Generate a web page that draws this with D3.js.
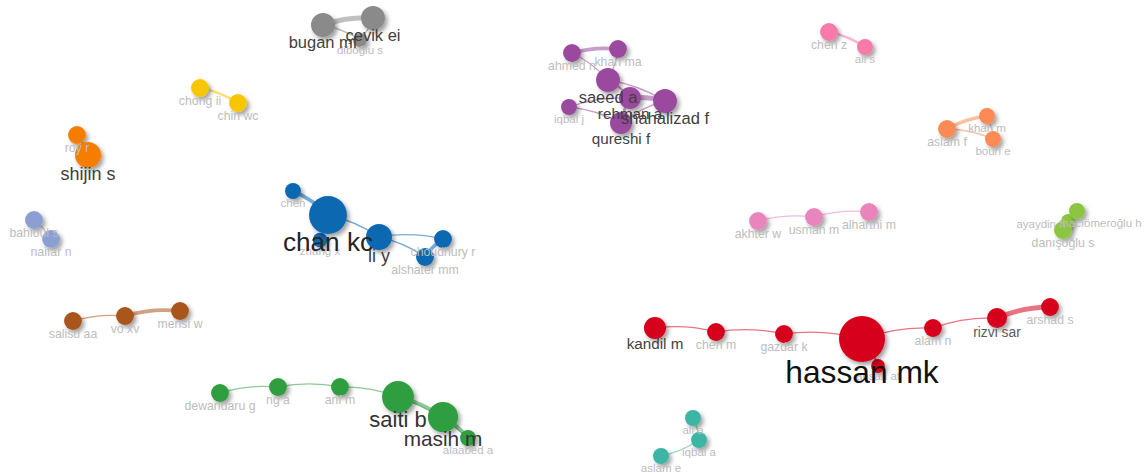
<!DOCTYPE html>
<html>
<head>
<meta charset="utf-8">
<script src="https://cdn.jsdelivr.net/npm/d3@7"></script>
<style>
  html, body { margin: 0; padding: 0; background: #fff; }
  svg { display: block; font-family: "Liberation Sans", Arial, sans-serif; }
</style>
</head>
<body>
<svg id="map" width="1146" height="474"></svg>
<script>
// Cluster colours (co-authorship clusters)
const clusterColors = ["#d6001c", "#2f9e3f", "#0b67b2", "#9a4a9e", "#8a8a8a", "#f6c700", "#f77d05",
                       "#8c9fd3", "#a9561c", "#f77aab", "#fc8a55", "#e885bd", "#8cc63f", "#3cb5a4"];

// Authors: [label, map x, map y, weight, cluster]
const nodes = [
  ["hassan mk", 862, 339, 100, 0],
  ["kandil m", 655, 328, 23, 0],
  ["chen m", 716, 332, 15, 0],
  ["gazdar k", 784, 334, 15, 0],
  ["ansari at", 878, 366, 9, 0],
  ["alam n", 933, 328, 15, 0],
  ["rizvi sar", 997, 318, 19, 0],
  ["arshad s", 1050, 307, 15, 0],

  ["saiti b", 398, 397, 48, 1],
  ["masih m", 443, 417, 43, 1],
  ["dewandaru g", 220, 393, 15, 1],
  ["ng a", 278, 387, 15, 1],
  ["arif m", 340, 387, 15, 1],
  ["alaabed a", 468, 438, 12, 1],

  ["chan kc", 328, 215, 68, 2],
  ["chen", 293, 191, 12, 2],
  ["zhang x", 320, 240, 10, 2],
  ["li y", 379, 237, 32, 2],
  ["choudhury r", 443, 239, 15, 2],
  ["alshater mm", 425, 257, 15, 2],

  ["saeed a", 608, 80, 27, 3],
  ["rehman a", 630, 98, 23, 3],
  ["shahalizad f", 665, 101, 27, 3],
  ["qureshi f", 621, 123, 23, 3],
  ["ahmed n", 572, 53, 15, 3],
  ["khan ma", 618, 49, 15, 3],
  ["iqbal j", 569, 107, 12, 3],

  ["bugan mf", 323, 25, 27, 4],
  ["çevik ei", 373, 18, 27, 4],
  ["diboğlu s", 360, 40, 9, 4],

  ["chong ii", 200, 88, 15, 5],
  ["chin wc", 238, 103, 15, 5],

  ["roy r", 77, 135, 15, 6],
  ["shijin s", 88, 155, 32, 6],

  ["bahloul s", 34, 220, 15, 7],
  ["naifar n", 51, 239, 15, 7],

  ["salisu aa", 73, 321, 15, 8],
  ["vo xv", 125, 316, 15, 8],
  ["mensi w", 180, 311, 15, 8],

  ["chen z", 829, 32, 15, 9],
  ["ali s", 865, 47, 12, 9],

  ["aslam f", 947, 129, 15, 10],
  ["khan m", 987, 116, 12, 10],
  ["bouri e", 993, 139, 12, 10],

  ["akhter w", 758, 221, 15, 11],
  ["usman m", 814, 217, 15, 11],
  ["alharthi m", 869, 212, 15, 11],

  ["ayaydin h", 1068, 221, 9, 12],
  ["hacıömeroğlu h", 1077, 211, 12, 12],
  ["danışoğlu s", 1063, 230, 15, 12],

  ["ali a", 693, 418, 12, 13],
  ["iqbal a", 699, 440, 12, 13],
  ["aslam e", 661, 456, 12, 13]
];

// Co-authorship links: [author, author, link strength]
const links = [
  ["kandil m", "chen m", 1], ["chen m", "gazdar k", 1], ["gazdar k", "hassan mk", 1],
  ["hassan mk", "alam n", 1], ["alam n", "rizvi sar", 1], ["rizvi sar", "arshad s", 4],
  ["hassan mk", "ansari at", 2],

  ["dewandaru g", "ng a", 1], ["ng a", "arif m", 1], ["arif m", "saiti b", 1],
  ["saiti b", "masih m", 3], ["masih m", "alaabed a", 3], ["saiti b", "alaabed a", 1],

  ["chen", "chan kc", 3], ["chan kc", "zhang x", 1], ["chan kc", "li y", 1],
  ["li y", "choudhury r", 1], ["li y", "alshater mm", 1], ["alshater mm", "choudhury r", 3],

  ["ahmed n", "khan ma", 3], ["ahmed n", "saeed a", 1], ["khan ma", "saeed a", 1],
  ["saeed a", "shahalizad f", 1], ["saeed a", "rehman a", 2], ["rehman a", "shahalizad f", 4],
  ["iqbal j", "rehman a", 1], ["iqbal j", "qureshi f", 1], ["qureshi f", "shahalizad f", 1],
  ["qureshi f", "rehman a", 2],

  ["bugan mf", "çevik ei", 4], ["bugan mf", "diboğlu s", 1], ["çevik ei", "diboğlu s", 1],
  ["chong ii", "chin wc", 2],
  ["roy r", "shijin s", 2],
  ["bahloul s", "naifar n", 1],
  ["salisu aa", "vo xv", 1], ["vo xv", "mensi w", 3],
  ["chen z", "ali s", 2],
  ["aslam f", "khan m", 3], ["aslam f", "bouri e", 1], ["khan m", "bouri e", 1],
  ["akhter w", "usman m", 1], ["usman m", "alharthi m", 1],
  ["ayaydin h", "hacıömeroğlu h", 1], ["hacıömeroğlu h", "danışoğlu s", 2], ["ayaydin h", "danışoğlu s", 1],
  ["ali a", "iqbal a", 1], ["iqbal a", "aslam e", 1]
];

// ---- layout ----
const width = 1146, height = 474;
const svg = d3.select("#map");

// label nudges for crowded labels
const labelShift = { "ayaydin h": [-27, -7], "hacıömeroğlu h": [25, 0] };

const x = d3.scaleLinear().domain([0, 1146]).range([0, width]);
const y = d3.scaleLinear().domain([0, 474]).range([0, height]);
const r = d3.scaleSqrt().domain([0, 100]).range([0, 23]);
const fontSize = w => Math.max(11.5, 1.38 * r(w));
const textColor = d3.scaleLinear().domain([15, 20, 100]).range(["#bdbdbd", "#444", "#111"]).clamp(true);
const linkWidth = d3.scaleLinear().domain([1, 4]).range([1.3, 5]);

const nodeData = nodes.map(([name, mx, my, w, c]) => ({ name, mx, my, w, c }));
const byName = new Map(nodeData.map(d => [d.name, d]));
const linkData = links.map(([a, b, s]) => ({ source: byName.get(a), target: byName.get(b), s }));

// soft drop shadow under the circles
const defs = svg.append("defs");
const f = defs.append("filter").attr("id", "shadow")
  .attr("x", "-50%").attr("y", "-50%").attr("width", "200%").attr("height", "200%");
f.append("feDropShadow").attr("dx", 2.5).attr("dy", 3).attr("stdDeviation", 2.2)
  .attr("flood-color", "#000").attr("flood-opacity", 0.38);

svg.append("rect").attr("width", width).attr("height", height).attr("fill", "#fff");

// curved links
const curve = 0.1;
svg.append("g").selectAll("path").data(linkData).join("path")
  .attr("d", d => {
    const sx = x(d.source.mx), sy = y(d.source.my), tx = x(d.target.mx), ty = y(d.target.my);
    const mx = (sx + tx) / 2, my = (sy + ty) / 2;
    const dx = tx - sx, dy = ty - sy;
    const cx = mx + dy * curve, cy = my - dx * curve;
    return `M${sx},${sy}Q${cx},${cy} ${tx},${ty}`;
  })
  .attr("fill", "none")
  .attr("stroke", d => clusterColors[d.source.c])
  .attr("stroke-opacity", 0.55)
  .attr("stroke-linecap", "round")
  .attr("stroke-width", d => linkWidth(d.s));

const ordered = nodeData.slice().sort((a, b) => a.w - b.w);

// author circles
svg.append("g").selectAll("circle").data(ordered).join("circle")
  .attr("cx", d => x(d.mx))
  .attr("cy", d => y(d.my))
  .attr("r", d => r(d.w))
  .attr("fill", d => clusterColors[d.c])
  .attr("filter", "url(#shadow)");

// author labels below each circle
svg.append("g").selectAll("text").data(ordered).join("text")
  .attr("x", d => x(d.mx) + (labelShift[d.name] ? labelShift[d.name][0] : 0))
  .attr("y", d => y(d.my) + r(d.w) + 0.66 * fontSize(d.w) + (labelShift[d.name] ? labelShift[d.name][1] : 0))
  .attr("text-anchor", "middle")
  .attr("font-size", d => fontSize(d.w))
  .attr("fill", d => textColor(d.w))
  .text(d => d.name);
</script>
</body>
</html>
